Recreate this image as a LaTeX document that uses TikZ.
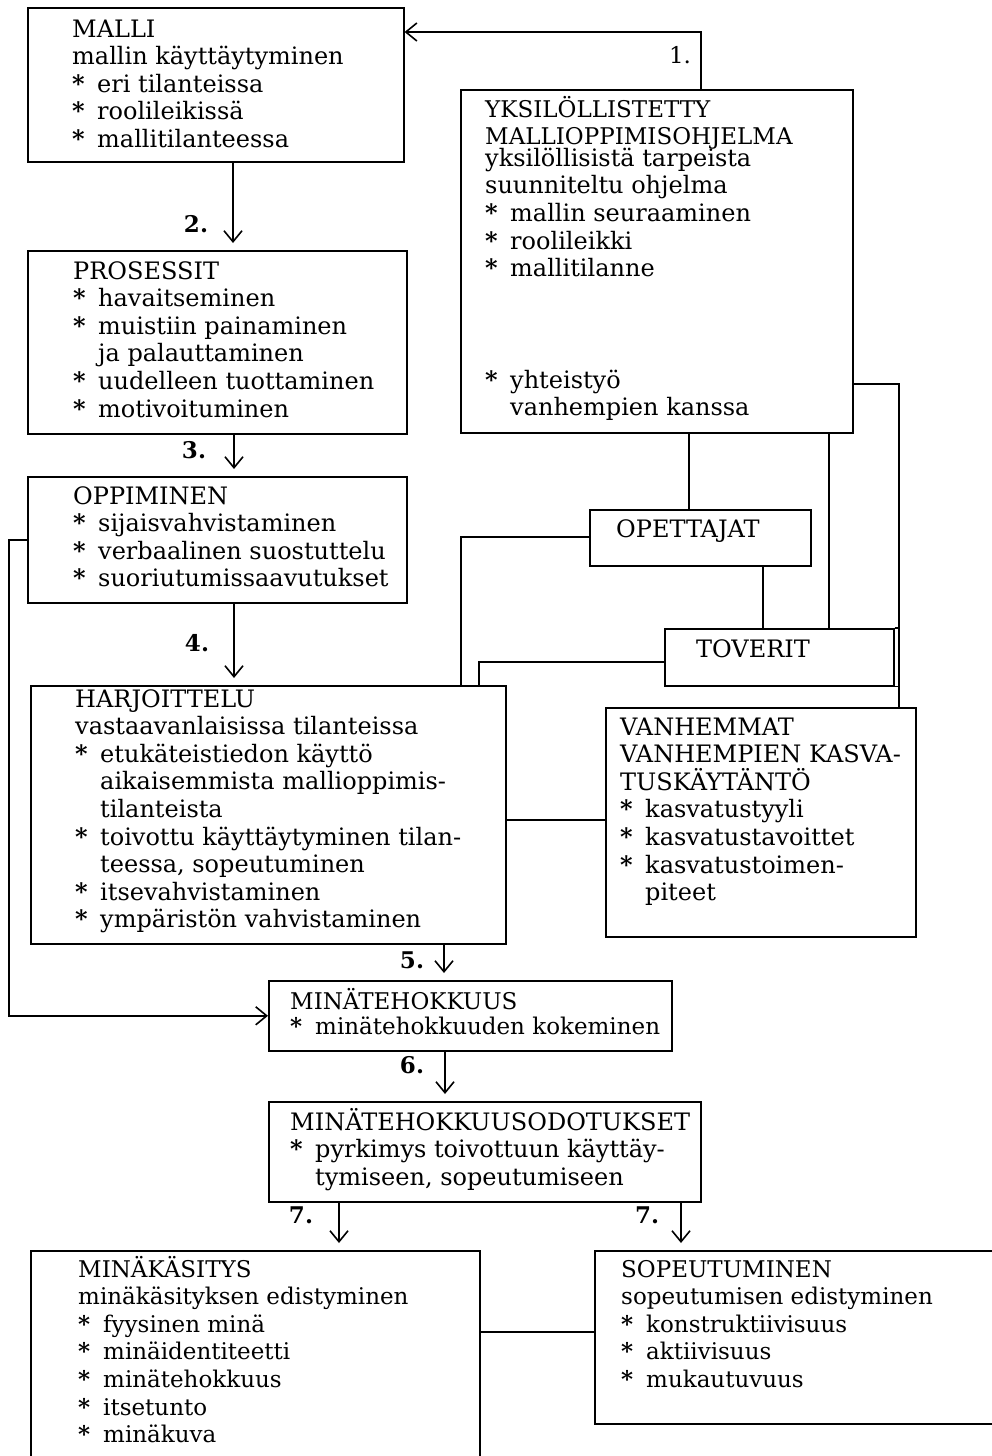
\documentclass[tikz,border=0pt]{standalone}
\usepackage{fontspec}
\setmainfont{DejaVu Serif}
\usetikzlibrary{arrows.meta}

% bullet and hanging indent for list lines
\newcommand{\bul}{\makebox[25pt][l]{\bfseries *}}
\newcommand{\cont}{\hspace*{25pt}}
\newcommand{\lines}[1]{\parbox[t]{520pt}{\raggedright #1}}

\tikzset{
  box/.style={draw, line width=1.6pt, anchor=north west, inner sep=0pt},
  txt/.style={anchor=base west, inner sep=0pt, font=\fontsize{24}{27.6}\selectfont},
  txtsm/.style={txt, font=\fontsize{23}{27.6}\selectfont},
  num/.style={inner sep=0pt, font=\fontsize{23}{27.6}\selectfont\bfseries},
  link/.style={line width=1.6pt},
  arr/.style={line width=1.6pt, -{Straight Barb[length=11pt,width=18pt]}},
  darr/.style={arr, shorten >=7pt},
}

\begin{document}
\begin{tikzpicture}[x=1pt, y=-1pt]
\useasboundingbox (0,0) rectangle (992,1456);
\clip (0,0) rectangle (992,1456);

% ---------- boxes ----------
\node[box, minimum width=376pt, minimum height=154pt] (malli) at (27,7) {};
\node[box, minimum width=392pt, minimum height=343pt] (yksi) at (460,89) {};
\node[box, minimum width=379pt, minimum height=183pt] (pros) at (27,250) {};
\node[box, minimum width=379pt, minimum height=126pt] (opp) at (27,476) {};
\node[box, minimum width=221pt, minimum height=56pt] (opet) at (589,509) {};
\node[box, minimum width=229pt, minimum height=57pt] (tov) at (664,628) {};
\node[box, minimum width=475pt, minimum height=258pt] (harj) at (30,685) {};
\node[box, minimum width=310pt, minimum height=229pt] (vanh) at (605,707) {};
\node[box, minimum width=403pt, minimum height=70pt] (mteh) at (268,980) {};
\node[box, minimum width=432pt, minimum height=100pt] (odot) at (268,1101) {};
\node[box, minimum width=449pt, minimum height=240pt] (mkas) at (30,1250) {};
\node[box, minimum width=420pt, minimum height=173pt] (sop) at (594,1250) {};

% ---------- texts ----------
\node[txt] (malli-t) at (72,37) {\lines{MALLI\\
mallin käyttäytyminen\\
\bul eri tilanteissa\\
\bul roolileikissä\\
\bul mallitilanteessa}};

\node[txtsm] (yksi-t) at (485,117) {\lines{YKSILÖLLISTETTY\\
MALLIOPPIMISOHJELMA\\[-6pt]
{\fontsize{24}{27.6}\selectfont yksilöllisistä tarpeista}\\
{\fontsize{24}{27.6}\selectfont suunniteltu ohjelma}\\
{\fontsize{24}{27.6}\selectfont\bul mallin seuraaminen}\\
{\fontsize{24}{27.6}\selectfont\bul roolileikki}\\
{\fontsize{24}{27.6}\selectfont\bul mallitilanne}\\[84pt]
{\fontsize{24}{27.6}\selectfont\bul yhteistyö}\\
{\fontsize{24}{27.6}\selectfont\cont vanhempien kanssa}}};

\node[txt] (pros-t) at (73,279) {\lines{PROSESSIT\\
\bul havaitseminen\\
\bul muistiin painaminen\\
\cont ja palauttaminen\\
\bul uudelleen tuottaminen\\
\bul motivoituminen}};

\node[txt] (opp-t) at (73,504) {\lines{OPPIMINEN\\
\bul sijaisvahvistaminen\\
\bul verbaalinen suostuttelu\\
\bul suoriutumissaavutukset}};

\node[txt] (opet-t) at (616,537) {OPETTAJAT};
\node[txt] (tov-t) at (696,657) {TOVERIT};

\node[txt] (harj-t) at (75,707) {\lines{HARJOITTELU\\
vastaavanlaisissa tilanteissa\\
\bul etukäteistiedon käyttö\\
\cont aikaisemmista mallioppimis-\\
\cont tilanteista\\
\bul toivottu käyttäytyminen tilan-\\
\cont teessa, sopeutuminen\\
\bul itsevahvistaminen\\
\bul ympäristön vahvistaminen}};

\node[txt] (vanh-t) at (620,735) {\lines{VANHEMMAT\\
VANHEMPIEN KASVA-\\
TUSKÄYTÄNTÖ\\
\bul kasvatustyyli\\
\bul kasvatustavoittet\\
\bul kasvatustoimen-\\
\cont piteet}};

\node[txtsm] (mteh-t) at (290,1009) {\lines{MINÄTEHOKKUUS\\[-2pt]
\bul minätehokkuuden kokeminen}};

\node[txt] (odot-t) at (290,1130) {\lines{MINÄTEHOKKUUSODOTUKSET\\
\bul pyrkimys toivottuun käyttäy-\\
\cont tymiseen, sopeutumiseen}};

\node[txtsm] (mkas-t) at (78,1277) {\lines{MINÄKÄSITYS\\
minäkäsityksen edistyminen\\
\bul fyysinen minä\\
\bul minäidentiteetti\\
\bul minätehokkuus\\
\bul itsetunto\\
\bul minäkuva}};

\node[txtsm] (sop-t) at (621,1277) {\lines{SOPEUTUMINEN\\
sopeutumisen edistyminen\\
\bul konstruktiivisuus\\
\bul aktiivisuus\\
\bul mukautuvuus}};

% ---------- step numbers ----------
\node[num, font=\fontsize{23}{27.6}\selectfont] (n1) at (680,55) {1.};
\node[num] (n2) at (196,224) {2.};
\node[num] (n3) at (194,450) {3.};
\node[num] (n4) at (197,643) {4.};
\node[num] (n5) at (412,960) {5.};
\node[num] (n6) at (412,1065) {6.};
\node[num] (n7a) at (301,1215) {7.};
\node[num] (n7b) at (647,1215) {7.};

% ---------- bend points ----------
\coordinate (c1) at (701,32);
\coordinate (c2) at (233,0);
\coordinate (c3) at (234,0);
\coordinate (c5) at (444,0);
\coordinate (c6) at (445,0);
\coordinate (c7a) at (339,0);
\coordinate (c7b) at (681,0);
\coordinate (cl) at (9,0);
\coordinate (cy1) at (689,0);
\coordinate (cy2) at (829,384);
\coordinate (cr) at (899,384);
\coordinate (co1) at (461,537);
\coordinate (co2) at (763,0);
\coordinate (ct1) at (479,662);
\coordinate (ch) at (0,820);
\coordinate (cm) at (0,1332);

% ---------- main flow ----------
\draw[arr] (yksi.north -| c1) |- (malli.east |- c1);
\draw[darr] (malli.south -| c2) -- (pros.north -| c2);
\draw[darr] (pros.south -| c3) -- (opp.north -| c3);
\draw[darr] (opp.south -| c3) -- (harj.north -| c3);
\draw[darr] (harj.south -| c5) -- (mteh.north -| c5);
\draw[darr] (mteh.south -| c6) -- (odot.north -| c6);
\draw[darr] (odot.south -| c7a) -- (mkas.north -| c7a);
\draw[darr] (odot.south -| c7b) -- (sop.north -| c7b);
\draw[arr] (opp.west) -| (cl |- mteh.west) -- (mteh.west);

% ---------- environment links ----------
\draw[link] (yksi.south -| cy1) -- (opet.north -| cy1);
\draw[link] (yksi.south -| cy2) -- (tov.north -| cy2);
\draw[link] (yksi.east |- cr) -| (vanh.north -| cr);
\draw[link] (tov.north east) -- (tov.north -| cr);
\draw[link] (tov.south east) -- (tov.south -| cr);
\draw[link] (opet.west |- co1) -| (harj.north -| co1);
\draw[link] (opet.south -| co2) -- (tov.north -| co2);
\draw[link] (tov.west |- ct1) -| (harj.north -| ct1);
\draw[link] (harj.east |- ch) -- (vanh.west |- ch);
\draw[link] (mkas.east |- cm) -- (sop.west |- cm);
\end{tikzpicture}
\end{document}
